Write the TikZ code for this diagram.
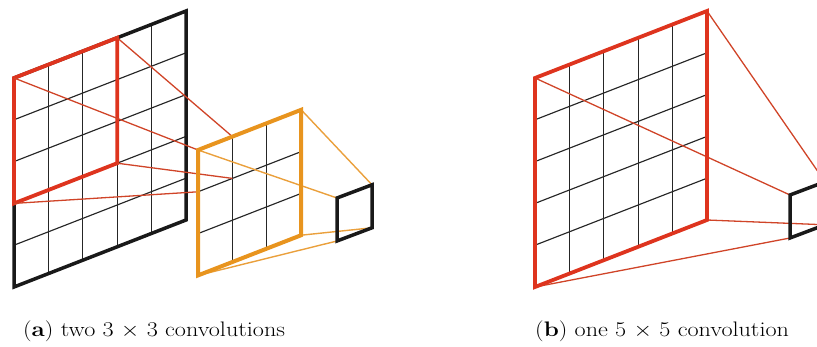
\documentclass[tikz,border=0pt]{standalone}
\usepackage{graphicx}
\definecolor{cred}{RGB}{222,52,30}
\definecolor{lred}{RGB}{208,68,40}
\definecolor{corange}{RGB}{232,148,30}
\definecolor{lorange}{RGB}{234,160,60}
\begin{document}
\begin{tikzpicture}[x=1pt,y=-1pt,
  gridline/.style={black!85, line width=1.15pt},
  blackframe/.style={black!90, line width=3.5pt, line join=miter},
  redframe/.style={cred, line width=3.8pt, line join=miter},
  orangeframe/.style={corange, line width=4pt, line join=miter},
  redlink/.style={lred, line width=1.3pt},
  orangelink/.style={lorange, line width=1.4pt},
  caption/.style={anchor=base west, inner sep=0pt, font=\fontsize{21}{24}\selectfont}]
\useasboundingbox (0,0) rectangle (817,347);
\clip (0,0) rectangle (817,347);

% ---------- panel (a) ----------
% big 5x5 grid
\begin{scope}[shift={(14,78)}, x={(34.4pt,13.4pt)}, y={(0pt,-41.8pt)}]
  \foreach \i in {0,...,5} {\foreach \j in {0,...,5} {\coordinate (A-\i-\j) at (\i,\j);}}
  \foreach \k in {1,...,4} {\draw[gridline] (\k,0) -- (\k,5); \draw[gridline] (0,\k) -- (5,\k);}
\end{scope}
\draw[blackframe] (A-0-0) -- (A-5-0) -- (A-5-5) -- (A-0-5) -- cycle;
\draw[redframe] (A-0-0) -- (A-3-0) -- (A-3-3) -- (A-0-3) -- cycle;

% orange 3x3 grid
\begin{scope}[shift={(198,150)}, x={(34.4pt,13.4pt)}, y={(0pt,-41.8pt)}]
  \foreach \i in {0,...,3} {\foreach \j in {0,...,3} {\coordinate (B-\i-\j) at (\i,\j);}}
  \foreach \k in {1,2} {\draw[gridline] (\k,0) -- (\k,3); \draw[gridline] (0,\k) -- (3,\k);}
\end{scope}

% small output cell (a)
\begin{scope}[shift={(337,198)}, x={(35pt,13.2pt)}, y={(0pt,-43pt)}]
  \foreach \i in {0,1} {\foreach \j in {0,1} {\coordinate (C-\i-\j) at (\i,\j);}}
\end{scope}

% red links: red box -> top-left cell of orange grid
\draw[redlink] (A-0-0) -- (B-0-0);
\draw[redlink] (A-3-0) -- (B-1-0);
\draw[redlink] (A-3-3) -- (B-1-1);
\draw[redlink] (A-0-3) -- (B-0-1);

% orange links: orange grid -> small cell
\draw[orangelink] (B-0-0) -- (C-0-0);
\draw[orangelink] (B-3-0) -- (C-1-0);
\draw[orangelink] (B-3-3) -- (C-1-1);
\draw[orangelink] (B-0-3) -- (C-0-1);

\draw[orangeframe] (B-0-0) -- (B-3-0) -- (B-3-3) -- (B-0-3) -- cycle;
\draw[blackframe] (C-0-0) -- (C-1-0) -- (C-1-1) -- (C-0-1) -- cycle;

% ---------- panel (b) ----------
\begin{scope}[shift={(535,78)}, x={(34.4pt,13.4pt)}, y={(0pt,-41.8pt)}]
  \foreach \i in {0,...,5} {\foreach \j in {0,...,5} {\coordinate (D-\i-\j) at (\i,\j);}}
  \foreach \k in {1,...,4} {\draw[gridline] (\k,0) -- (\k,5); \draw[gridline] (0,\k) -- (5,\k);}
\end{scope}

\begin{scope}[shift={(790,195)}, x={(35pt,13.2pt)}, y={(0pt,-43pt)}]
  \foreach \i in {0,1} {\foreach \j in {0,1} {\coordinate (E-\i-\j) at (\i,\j);}}
\end{scope}

\draw[redlink] (D-0-0) -- (E-0-0);
\draw[redlink] (D-5-0) -- (E-1-0);
\draw[redlink] (D-5-5) -- (E-1-1);
\draw[redlink] (D-0-5) -- (E-0-1);

\draw[redframe] (D-0-0) -- (D-5-0) -- (D-5-5) -- (D-0-5) -- cycle;
\draw[blackframe] (E-0-0) -- (E-1-0) -- (E-1-1) -- (E-0-1) -- cycle;

% ---------- captions ----------
\node[caption] (capa) at (23,337) {\scalebox{1.15}[1]{(\textbf{a}) two 3 $\times$ 3 convolutions}};
\node[caption] (capb) at (535,337) {\scalebox{1.15}[1]{(\textbf{b}) one 5 $\times$ 5 convolution}};
\end{tikzpicture}
\end{document}
